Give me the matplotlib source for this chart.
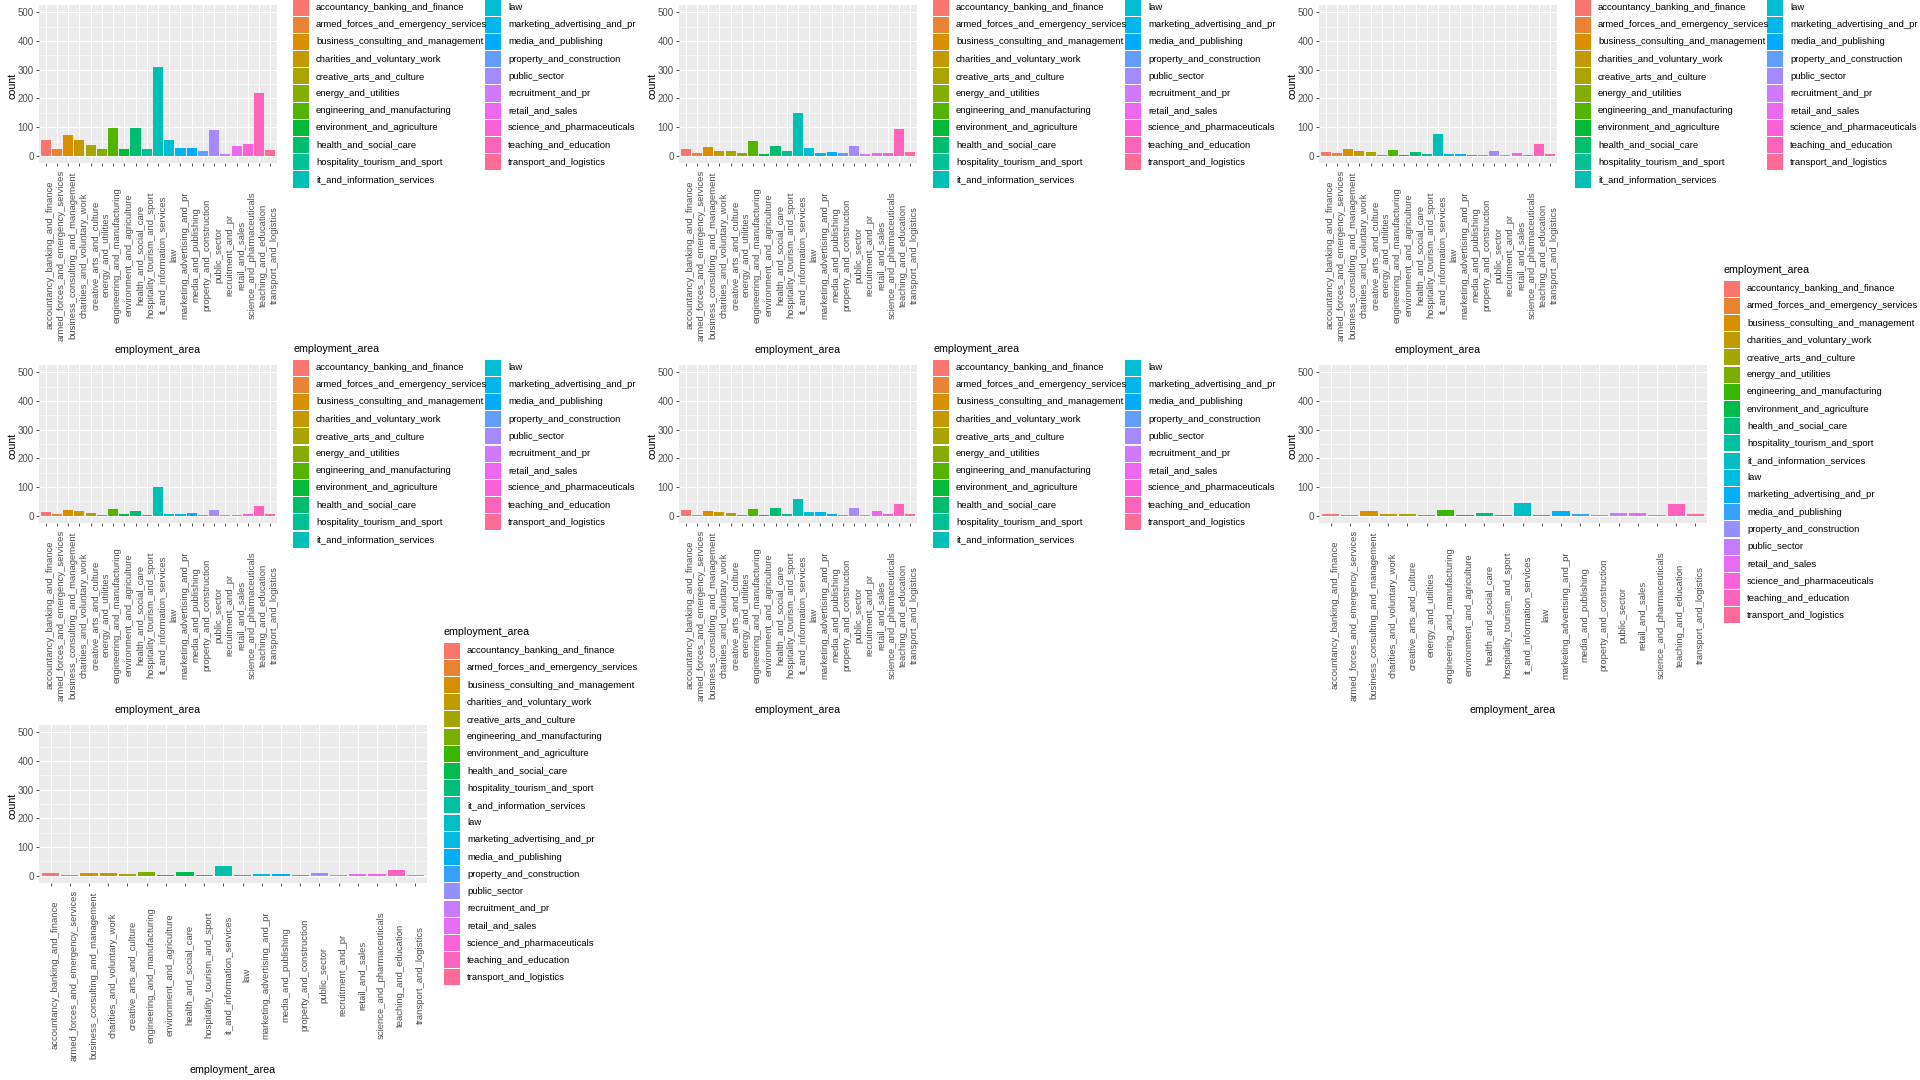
import numpy as np
import matplotlib.pyplot as plt
from matplotlib import transforms
from matplotlib.patches import Rectangle

plt.rcParams['font.family'] = ['Liberation Sans', 'DejaVu Sans']

# categories (factor levels)
areas = ['accountancy_banking_and_finance', 'armed_forces_and_emergency_services',
         'business_consulting_and_management', 'charities_and_voluntary_work',
         'creative_arts_and_culture', 'energy_and_utilities', 'engineering_and_manufacturing',
         'environment_and_agriculture', 'health_and_social_care', 'hospitality_tourism_and_sport',
         'it_and_information_services', 'law', 'marketing_advertising_and_pr',
         'media_and_publishing', 'property_and_construction', 'public_sector',
         'recruitment_and_pr', 'retail_and_sales', 'science_and_pharmaceuticals',
         'teaching_and_education', 'transport_and_logistics']
areas_no_recruit = [a for a in areas if a != 'recruitment_and_pr']
areas_no_energy = [a for a in areas if a != 'energy_and_utilities']

# counts
counts1 = [56, 24, 73, 56, 38, 24, 98, 24, 98, 24, 310, 56, 28, 28, 17, 91, 7, 35, 42, 220, 21]
counts2 = [24, 10, 31, 17, 17, 10, 52, 7, 35, 17, 150, 28, 10, 14, 10, 35, 7, 10, 10, 94, 14]
counts3 = [14, 10, 24, 17, 14, 3, 21, 3, 14, 7, 77, 7, 7, 3, 3, 17, 3, 10, 3, 42, 7]
counts4 = [14, 7, 21, 17, 10, 3, 24, 7, 17, 3, 101, 7, 7, 10, 3, 21, 3, 3, 7, 35, 7]
counts5 = [21, 3, 17, 14, 10, 3, 24, 3, 28, 7, 59, 14, 14, 7, 3, 28, 3, 17, 7, 42, 7]
counts6 = [7, 3, 17, 7, 7, 3, 21, 3, 10, 3, 45, 3, 17, 7, 3, 10, 10, 3, 42, 7]
counts7 = [10, 3, 10, 10, 7, 14, 3, 14, 3, 35, 3, 7, 7, 3, 10, 3, 7, 7, 21, 3]

W, H = 1920, 1080


def hue_pal(n):
    # ggplot2 default hue palette (hcl, c=100, l=65)
    h = np.radians(15 + 360 * np.arange(n) / n)
    L, C = 65.0, 100.0
    u, v = C * np.cos(h), C * np.sin(h)
    Xn, Yn, Zn = 95.047, 100.0, 108.883
    d = Xn + 15 * Yn + 3 * Zn
    up = u / (13 * L) + 4 * Xn / d
    vp = v / (13 * L) + 9 * Yn / d
    Y = Yn * ((L + 16) / 116) ** 3
    X = Y * 9 * up / (4 * vp)
    Z = Y * (12 - 3 * up - 20 * vp) / (4 * vp)
    M = np.array([[3.2404542, -1.5371385, -0.4985314],
                  [-0.9692660, 1.8760108, 0.0415560],
                  [0.0556434, -0.2040259, 1.0572252]])
    rgb = M @ np.vstack([X * np.ones(n), Y * np.ones(n), Z]) / 100
    rgb = np.clip(rgb, 0, None)
    rgb = np.where(rgb <= 0.0031308, 12.92 * rgb, 1.055 * rgb ** (1 / 2.4) - 0.055)
    return np.clip(rgb.T, 0, 1)


fig = plt.figure(figsize=(19.2, 10.8), dpi=100)


def fx(x):
    return x / W


def fy(y):
    return 1 - y / H


SMALL = 6.8
TITLE = 7.7


def panel(cats, vals, cx, cy, right, legend):
    n = len(cats)
    x0, x1 = cx + 39, cx + right
    y0, y1 = cy + 5, cy + 163
    ax = fig.add_axes([fx(x0), fy(y1), (x1 - x0) / W, (y1 - y0) / H])
    cols = hue_pal(n)
    xs = np.arange(1, n + 1)
    ax.bar(xs, vals, width=0.9, color=cols, zorder=3)
    ax.set_xlim(0.4, n + 0.6)
    ax.set_ylim(-25, 525)
    ax.set_facecolor('#EBEBEB')
    for s in ax.spines.values():
        s.set_visible(False)
    ax.set_yticks(range(0, 501, 100))
    ax.set_yticks(range(50, 500, 100), minor=True)
    ax.set_xticks(xs)
    ax.set_xticklabels([])
    ax.grid(which='major', color='white', linewidth=0.8, zorder=0)
    ax.grid(which='minor', axis='y', color='white', linewidth=0.4, zorder=0)
    ax.tick_params(which='major', length=2.4, width=0.6, color='#333333',
                   labelsize=7.0, labelcolor='#4D4D4D', pad=1.5)
    ax.tick_params(which='minor', length=0)
    ax.set_axisbelow(True)
    # rotated category labels (angle 90, centered)
    tr = transforms.blended_transform_factory(ax.transData, fig.transFigure)
    for x, c in zip(xs, cats):
        ax.text(x, fy(cy + 255), c, rotation=90, ha='left', va='center',
                fontsize=SMALL, color='#4D4D4D', transform=tr, clip_on=False)
    fig.text(fx((x0 + x1) / 2), fy(cy + 350), 'employment_area', ha='center', va='center',
             fontsize=TITLE)
    fig.text(fx(cx + 12), fy((y0 + y1) / 2 + 2), 'count', rotation=90, ha='center', va='center',
             fontsize=TITLE)

    # legend
    kx, ky, per_col, col_gap = legend
    step = 17.2
    if ky - 19 > 5:  # title falls off the top edge for the first row
        fig.text(fx(kx), fy(ky - 19), 'employment_area', ha='left', va='center', fontsize=TITLE)
    for i, c in enumerate(cats):
        col, row = divmod(i, per_col)
        lx = kx + col * col_gap
        ly = ky + row * step
        fig.patches.append(Rectangle((fx(lx), fy(ly + 8)), 16 / W, 16 / H,
                                     transform=fig.transFigure, facecolor=cols[i],
                                     edgecolor='none'))
        fig.text(fx(lx + 23), fy(ly), c, ha='left', va='center', fontsize=SMALL)


panel(areas, counts1, 0, 0, 277, (293, 7.5, 11, 192))
panel(areas, counts2, 640, 0, 277, (933, 7.5, 11, 192))
panel(areas, counts3, 1280, 0, 277, (1575, 7.5, 11, 192))
panel(areas, counts4, 0, 360, 277, (293, 367.5, 11, 192))
panel(areas, counts5, 640, 360, 277, (933, 367.5, 11, 192))
panel(areas_no_recruit, counts6, 1280, 360, 427, (1724, 288.6, 20, 0))
panel(areas_no_energy, counts7, 0, 720, 427, (444, 650.6, 20, 0))

fig.savefig('out.png', dpi=100, facecolor='white')
